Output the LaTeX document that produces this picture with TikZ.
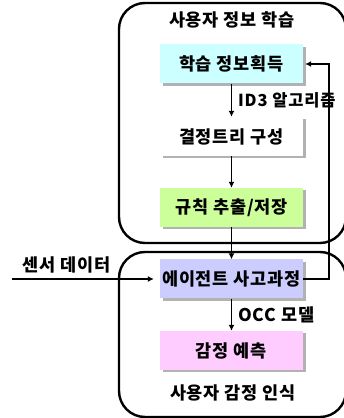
\documentclass[tikz,border=0pt]{standalone}
\usepackage{fontspec}
\setmainfont{Noto Sans CJK KR}[LetterSpace=5]
\usetikzlibrary{shadows,arrows.meta}

\tikzset{
    stagebox/.style={draw=none, minimum width=143pt, minimum height=39pt, inner sep=0pt,
        drop shadow={shadow xshift=2.5pt, shadow yshift=-2.5pt, fill=black!30, opacity=1}},
    groupbox/.style={line width=2.4pt, rounded corners=26pt},
    flow/.style={line width=1.3pt, -{Latex[length=6pt,width=6pt]}},
    lbl/.style={inner sep=0pt}
}

\begin{document}
\begin{tikzpicture}[x=1pt, y=1pt, font=\fontsize{17.5}{19}\selectfont\bfseries]
        \definecolor{learncyan}{RGB}{204,255,255}
        \definecolor{rulegreen}{RGB}{204,255,153}
        \definecolor{agentblue}{RGB}{204,204,255}
        \definecolor{emopink}{RGB}{255,204,255}

        \useasboundingbox (0,0) rectangle (344,418);

        % two groups
        \draw[groupbox] (119,175) rectangle (346,415);
        \draw[groupbox] (119,1) rectangle (346,166);
        \node[lbl] (learntitle) at (232,398) {사용자 정보 학습};
        \node[lbl] (emotitle) at (233,25) {사용자 감정 인식};

        % stages
        \node[stagebox, fill=learncyan] (acquire) at (231.5,354) {학습 정보획득};
        \node[stagebox, fill=white] (tree) at (231.5,281.5) {결정트리 구성};
        \node[stagebox, fill=rulegreen] (rules) at (231.5,210.5) {규칙 추출/저장};
        \node[stagebox, fill=agentblue] (agent) at (231.5,139) {에이전트 사고과정};
        \node[stagebox, fill=emopink] (predict) at (231.5,67.5) {감정 예측};

        % connectors
        \draw[flow] (acquire) -- (tree) node[lbl, midway, right=6pt, font=\fontsize{16.5}{19}\selectfont\bfseries] {ID3 알고리즘};
        \draw[flow] (tree) -- (rules);
        \draw[flow] (rules) -- (agent);
        \draw[flow] (agent) -- (predict) node[lbl, midway, right=6pt] {OCC 모델};

        \coordinate (sensorin) at (12,139);
        \draw[flow, shorten >=6pt] (sensorin) -- (agent);
        \node[lbl] (sensor) at (67,153) {센서 데이터};

        \draw[flow, shorten >=2pt] (agent.east) -| (329,354) -- (acquire.east);
\end{tikzpicture}
\end{document}
